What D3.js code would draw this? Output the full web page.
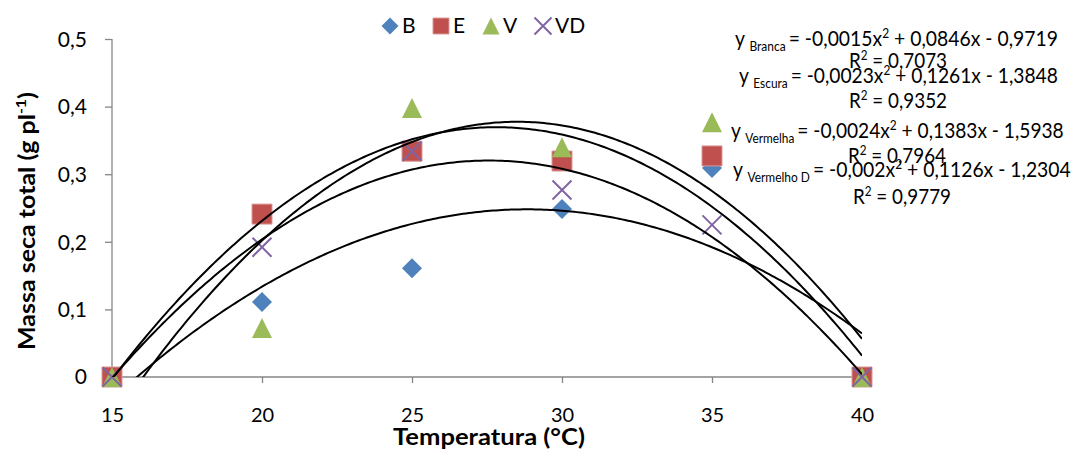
<!DOCTYPE html>
<html><head><meta charset="utf-8">
<script src="https://cdn.jsdelivr.net/npm/d3@7"></script>
<style>html,body{margin:0;padding:0;background:#fff;}svg{display:block;font-family:Lato,"Open Sans",sans-serif;}</style>
</head><body>
<svg id="c" width="1073" height="450"></svg>
<script>
const temps = [15, 20, 25, 30, 35, 40];
const xTicks = [15, 20, 25, 30, 35, 40];
const yTicks = [0, 0.1, 0.2, 0.3, 0.4, 0.5];
const yTickLabels = ["0", "0,1", "0,2", "0,3", "0,4", "0,5"];
const seriesNames = ["B", "E", "V", "VD"];
const valuesB = [0, 0.111, 0.161, 0.2485, 0.309, 0];
const valuesE = [0, 0.241, 0.334, 0.3195, 0.327, 0];
const valuesV = [0, 0.0725, 0.398, 0.340, 0.377, 0];
const valuesVD = [0, 0.192, 0.334, 0.2766, 0.225, 0];
const eqNames = ["Branca", "Escura", "Vermelha", "Vermelho D"];
const eqTexts = ["= -0,0015x", "= -0,0023x", "= -0,0024x", "= -0,002x"];
const eqTails = [" + 0,0846x - 0,9719", " + 0,1261x - 1,3848", " + 0,1383x - 1,5938", " + 0,1126x - 1,2304"];
const r2Texts = ["0,7073", "0,9352", "0,7964", "0,9779"];

const colors = {B: "#4F81BD", E: "#C0504D", V: "#9BBB59", VD: "#8064A2"};
const svg = d3.select("#c");
const x = d3.scaleLinear().domain([15, 40]).range([112, 862]);
const y = d3.scaleLinear().domain([0, 0.5]).range([377, 39]);

// fit text horizontally to a target width
function fitWidth(sel, x0, y0, w, rot) {
  const cur = sel.node().getComputedTextLength();
  const k = w / cur;
  sel.attr("x", 0).attr("y", 0)
    .attr("transform", `translate(${x0},${y0})${rot ? " rotate(" + rot + ")" : ""} scale(${k},1)`);
}

// axes
const axisColor = "#868686";
const gy = svg.append("g").attr("transform", "translate(112,0)")
  .call(d3.axisLeft(y).tickValues(yTicks.slice(1)).tickSize(7).tickFormat((d) => yTickLabels[yTicks.indexOf(d)]));
gy.select(".domain").attr("d", `M0,${y(0.5)}V${y(0)}`);
const gx = svg.append("g").attr("transform", "translate(0,377)")
  .call(d3.axisBottom(x).tickValues(xTicks).tickSize(6).tickFormat(d3.format("d")));
gx.select(".domain").attr("d", `M112,0H862`);
[gx, gy].forEach(g => {
  g.selectAll("path,line").attr("stroke", axisColor).attr("stroke-width", 1.3);
  g.selectAll("text").attr("font-family", "Lato").attr("font-size", 21).attr("fill", "#000");
});
gx.selectAll("text").attr("dy", null).attr("y", 45).attr("font-size", 20);
gy.selectAll("text").attr("x", -25).attr("dy", "0.35em");
svg.append("text").attr("x", 87).attr("y", y(0)).attr("dy", "0.35em").attr("text-anchor", "end")
  .attr("font-size", 21).text(yTickLabels[0]);

// titles
const yt = svg.append("text").attr("text-anchor", "middle")
  .attr("font-size", 22).attr("font-weight", "bold")
  .html('Massa seca total (g pl<tspan font-size="14" dy="-9">-1</tspan><tspan dy="9">)</tspan>');
fitWidth(yt, 35, 221, 258, -90);
const xt = svg.append("text").attr("text-anchor", "middle")
  .attr("font-size", 22).attr("font-weight", "bold").text("Temperatura (°C)");
fitWidth(xt, 489, 445, 192, 0);

// marker shapes
function markerPath(type, s) {
  const h = s / 2;
  if (type === "B") return `M0,${-h}L${h},0L0,${h}L${-h},0Z`;
  if (type === "E") return `M${-h},${-h}H${h}V${h}H${-h}Z`;
  if (type === "V") return `M0,${-h}L${h},${h}H${-h}Z`;
  return `M${-h},${-h}L${h},${h}M${h},${-h}L${-h},${h}`;
}
function drawMarker(g, type, cx, cy, s) {
  const p = g.append("path").attr("transform", `translate(${cx},${cy})`).attr("d", markerPath(type, s));
  if (type === "VD") p.attr("fill", "none").attr("stroke", colors.VD).attr("stroke-width", 2);
  else if (type === "E") p.attr("fill", colors.E).attr("stroke", "#D99A99").attr("stroke-width", 1);
  else p.attr("fill", colors[type]);
}

const allSeries = [["B", valuesB], ["E", valuesE], ["V", valuesV], ["VD", valuesVD]];
const gm = svg.append("g");
allSeries.forEach(([n, vals]) => {
  vals.forEach((v, i) => drawMarker(gm, n, x(temps[i]), y(v), n === "VD" ? 19 : 20));
});

// quadratic least-squares trendlines
function fitQuad(xs, ys) {
  let S = [0,0,0,0,0], T = [0,0,0];
  xs.forEach((xv, i) => {
    for (let k = 0; k < 5; k++) S[k] += Math.pow(xv, k);
    for (let k = 0; k < 3; k++) T[k] += ys[i] * Math.pow(xv, k);
  });
  const A = [[S[0],S[1],S[2],T[0]],[S[1],S[2],S[3],T[1]],[S[2],S[3],S[4],T[2]]];
  for (let i = 0; i < 3; i++) {
    for (let j = i + 1; j < 3; j++) {
      const f = A[j][i] / A[i][i];
      for (let k = i; k < 4; k++) A[j][k] -= f * A[i][k];
    }
  }
  const c = [0,0,0];
  for (let i = 2; i >= 0; i--) {
    let s = A[i][3];
    for (let k = i + 1; k < 3; k++) s -= A[i][k] * c[k];
    c[i] = s / A[i][i];
  }
  return c;
}
svg.append("clipPath").attr("id", "pc").append("rect").attr("x", 112).attr("y", 39).attr("width", 750).attr("height", 338);
const gl = svg.append("g").attr("clip-path", "url(#pc)");
const line = d3.line().x(d => x(d[0])).y(d => y(d[1]));
allSeries.forEach(([n, vals]) => {
  const c = fitQuad(temps, vals);
  const pts = d3.range(15, 40.001, 0.1).map(t => [t, c[0] + c[1] * t + c[2] * t * t]);
  gl.append("path").attr("d", line(pts)).attr("fill", "none").attr("stroke", "#000").attr("stroke-width", 2);
});

// legend
const legend = [[390, 26], [441, 26], [491, 26], [543, 26]];
seriesNames.forEach((n, i) => {
  const [lx, ly] = legend[i];
  drawMarker(svg, n, lx, ly, n === "E" ? 16 : 17);
  svg.append("text").attr("x", lx + 12).attr("y", ly + 7).attr("font-size", 21).text(n);
});

// equation labels
const eqPos = [[735, 46, 323, 898, 68], [739, 83, 319, 898, 108], [731, 138, 333, 897, 163], [733, 177, 338, 902, 204]];
eqNames.forEach((nm, i) => {
  const [ex, ey, ew, rx, ry] = eqPos[i];
  const t = svg.append("text").attr("font-size", 21);
  t.append("tspan").text("y ");
  t.append("tspan").attr("font-size", 13).attr("dy", 5).text(nm + " ");
  t.append("tspan").attr("dy", -5).text(eqTexts[i]);
  t.append("tspan").attr("font-size", 13).attr("dy", -8).text("2");
  t.append("tspan").attr("dy", 8).text(eqTails[i]);
  fitWidth(t, ex, ey, ew, 0);
  const r = svg.append("text").attr("font-size", 21);
  r.append("tspan").text("R");
  r.append("tspan").attr("font-size", 13).attr("dy", -8).text("2");
  r.append("tspan").attr("dy", 8).text(" = " + r2Texts[i]);
  fitWidth(r, rx - 49, ry, 98, 0);
});
</script>
</body></html>
